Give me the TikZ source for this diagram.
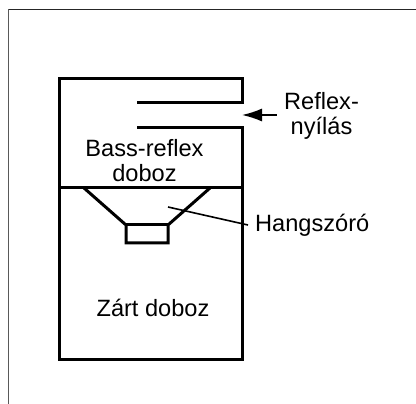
\documentclass[tikz,border=0pt]{standalone}
\usepackage{fontspec}
\setmainfont{Liberation Sans}
\usetikzlibrary{arrows.meta}
\tikzset{
	wall/.style={line width=3pt},
	thinline/.style={line width=1.6pt},
	label/.style={font=\fontsize{23.6}{25}\selectfont, align=center, inner sep=0pt}
}
\begin{document}
\begin{tikzpicture}[x=1pt,y=-1pt]

		% page and frame

		\useasboundingbox (0,0) rectangle (416,404);

		\draw[line width=1.5pt, black!65] (8.5,404) -- (8.5,9.5);

		\draw[line width=1.8pt, black!85] (8.5,9.5) -- (416,9.5);

		% points of the box

		\coordinate (TL)  at (59,79);

		\coordinate (TR)  at (242,79);

		\coordinate (SU)  at (242,103);

		\coordinate (SUe) at (137,103);

		\coordinate (SL)  at (242,128);

		\coordinate (SLe) at (137,128);

		\coordinate (DL)  at (59,188);

		\coordinate (DR)  at (242,188);

		\coordinate (BL)  at (59,359);

		\coordinate (BR)  at (242,359);

		% points of the speaker

		\coordinate (CL)  at (84,188);

		\coordinate (CR)  at (210,188);

		\coordinate (ML)  at (126,225);

		\coordinate (MR)  at (168,225);

		\coordinate (LL)  at (126,243);

		\coordinate (LR)  at (168,243);

		% box

		\draw[wall] (SUe) -- (SU) -- (TR) -- (TL) -- (BL) -- (BR) -- (SL) -- (SLe);

		\draw[wall] (DL) -- (DR);

		% speaker

		\draw[wall] (CL) -- (ML) -- (LL) -- (LR) -- (MR) -- (CR);

		\draw[wall] (ML) -- (MR);

		% labels

		\node[label, inner sep=7pt] (reflex) at (321.5,116) {Reflex-\\nyílás};

		\node[label] (bass) at (144.5,161) {Bass-reflex\\doboz};

		\node[label, inner sep=7pt, anchor=west] (hang) at (248,225) {Hangszóró};

		\node[label] (zart) at (153,307.5) {Zárt doboz};

		% pointers

		\coordinate (gap) at (242,115);

		\coordinate (ptr) at (168,207);

		\draw[-{Latex[length=20pt,width=13pt]}, thinline] (reflex.west |- gap) -- (gap);

		\draw[thinline] (ptr) -- (hang.west);

	\end{tikzpicture}
\end{document}
